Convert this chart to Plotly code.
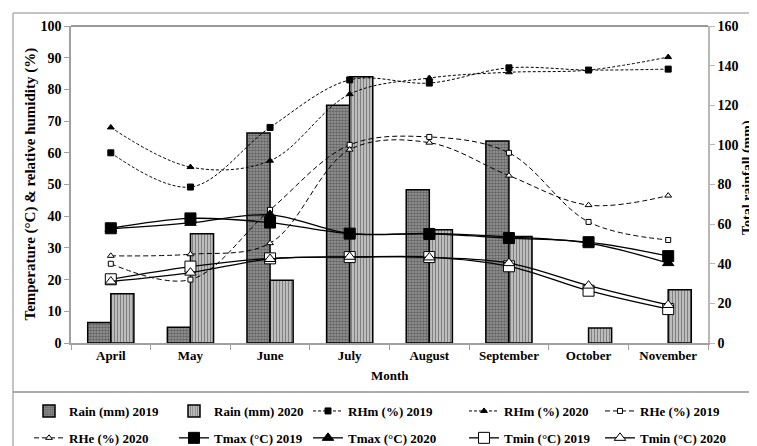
import plotly.graph_objects as go

months = ["April", "May", "June", "July", "August", "September", "October", "November"]

rain_2019 = [10.4, 8.0, 106.0, 120.0, 77.3, 102.0, None, None]
rain_2020 = [24.8, 55.2, 31.7, 134.4, 57.1, 53.8, 7.6, 26.9]

rhm_2019 = [60.0, 49.2, 68.0, 83.0, 82.0, 86.8, 86.1, 86.4]
rhm_2020 = [68.0, 55.5, 57.5, 78.5, 83.6, 85.4, 86.1, 90.2]
rhe_2019 = [25.0, 20.0, 42.0, 62.5, 65.0, 60.0, 38.2, 32.5]
rhe_2020 = [27.5, 28.0, 31.5, 61.0, 63.2, 52.8, 43.5, 46.5]
tmax_2019 = [36.2, 39.3, 38.0, 34.5, 34.4, 33.1, 31.8, 27.4]
tmax_2020 = [36.0, 37.9, 40.4, 34.5, 34.6, 33.5, 31.5, 25.2]
tmin_2019 = [20.1, 24.1, 26.7, 27.1, 27.1, 24.2, 16.5, 10.7]
tmin_2020 = [19.4, 22.2, 26.5, 27.2, 27.0, 25.2, 18.1, 12.0]

FONT = "Liberation Serif"
OFF = 8                      # default page (body) margin
W, H = 757 - OFF, 446 - OFF
L, R, T, B = 71 - OFF, (757 - OFF) - (708 - OFF), 26 - OFF, (446 - OFF) - (343 - OFF)
PW, PH = W - L - R, H - T - B


def px(x):
    """page x (px) -> paper fraction"""
    return (x - OFF - L) / PW


def py(y):
    """page y (px) -> paper fraction"""
    return (H - B - (y - OFF)) / PH


legend_ids = ["legend", "legend2", "legend3", "legend4", "legend5"]
col_x = [29, 174, 308, 464, 600]

fig = go.Figure()
order = 0


def lg():
    global order
    i = order
    order += 1
    return dict(legend=legend_ids[i % 5], legendgroup="g%d" % i, legendrank=i)


fig.add_trace(go.Bar(
    x=months, y=rain_2019, name="Rain (mm) 2019", yaxis="y", **lg(),
    marker=dict(color="#6e6e6e", line=dict(color="black", width=1.5),
                pattern=dict(shape=".", fgcolor="#303030", bgcolor="#9a9a9a", size=3, solidity=0.6)),
))
fig.add_trace(go.Bar(
    x=months, y=rain_2020, name="Rain (mm) 2020", yaxis="y", **lg(),
    marker=dict(color="#b0b0b0", line=dict(color="black", width=1.5),
                pattern=dict(shape="|", fgcolor="#3a3a3a", bgcolor="#c8c8c8", size=3, solidity=0.45)),
))


def line_trace(y, name, dash, symbol, size, fill="black", width=1.0, mlw=1):
    return go.Scatter(
        x=months, y=y, name=name, yaxis="y2", mode="lines+markers", **lg(),
        line=dict(color="black", width=width, dash=dash, shape="spline", smoothing=1.0),
        marker=dict(symbol=symbol, size=size, color=fill, line=dict(color="black", width=mlw)),
    )


fig.add_trace(line_trace(rhm_2019, "RHm (%) 2019", "3px,2px", "square", 6))
fig.add_trace(line_trace(rhm_2020, "RHm (%) 2020", "3px,2px", "triangle-up", 6))
fig.add_trace(line_trace(rhe_2019, "RHe (%) 2019", "5px,3px", "square", 5, fill="white"))
fig.add_trace(line_trace(rhe_2020, "RHe (%) 2020", "5px,3px", "triangle-up", 6, fill="white"))
fig.add_trace(line_trace(tmax_2019, "Tmax (°C) 2019", "solid", "square", 11, width=1.3))
fig.add_trace(line_trace(tmax_2020, "Tmax (°C) 2020", "solid", "triangle-up", 10, width=1.3))
fig.add_trace(line_trace(tmin_2019, "Tmin (°C) 2019", "solid", "square", 11, fill="white", width=1.3))
fig.add_trace(line_trace(tmin_2020, "Tmin (°C) 2020", "solid", "triangle-up", 10, fill="white", width=1.3))

tickfont = dict(family=FONT, size=14, color="black", weight="bold")

legend_common = dict(
    orientation="v", xanchor="left", y=py(396), yanchor="top",
    font=dict(family=FONT, size=13, color="black", weight="bold"),
    tracegroupgap=7, bgcolor="rgba(0,0,0,0)", itemwidth=30,
)
legends = {lid: dict(x=px(cx), **legend_common) for lid, cx in zip(legend_ids, col_x)}

fig.update_layout(
    width=W, height=H,
    margin=dict(l=L, r=R, t=T, b=B, pad=0, autoexpand=False),
    paper_bgcolor="white", plot_bgcolor="white",
    font=dict(family=FONT, color="black"),
    barmode="group", bargap=0.42, bargroupgap=0,
    showlegend=True,
    xaxis=dict(
        type="category", showline=True, linecolor="#a0a0a0", linewidth=1.5,
        ticks="outside", tickson="boundaries", ticklen=5, tickcolor="#a0a0a0",
        tickfont=dict(family=FONT, size=13, color="black", weight="bold"),
        showgrid=False, zeroline=False,
    ),
    yaxis=dict(
        side="right", range=[0, 160], dtick=20, showline=True, linecolor="#b8b8b8", linewidth=1.5,
        ticks="outside", ticklen=5, tickcolor="#b8b8b8", tickfont=tickfont,
        showgrid=False, zeroline=False,
    ),
    yaxis2=dict(
        side="left", overlaying="y", range=[0, 100], dtick=10, showline=True, linecolor="#a0a0a0",
        linewidth=1.5, ticks="outside", ticklen=5, tickcolor="#a0a0a0", tickfont=tickfont,
        showgrid=False, zeroline=False,
    ),
    annotations=[
        dict(text="Temperature (°C) & relative humidity (%)", x=px(30), y=0.5, xref="paper", yref="paper",
             textangle=-90, showarrow=False, xanchor="center", yanchor="middle",
             font=dict(family=FONT, size=15, color="black", weight="bold")),
        dict(text="Total rainfall (mm)", x=px(748), y=py(178), xref="paper", yref="paper",
             textangle=-90, showarrow=False, xanchor="center", yanchor="middle",
             font=dict(family=FONT, size=14, color="black", weight="bold")),
        dict(text="Month", x=0.5, y=py(375), xref="paper", yref="paper", showarrow=False,
             xanchor="center", yanchor="middle",
             font=dict(family=FONT, size=13, color="black", weight="bold")),
    ],
    shapes=[
        dict(type="line", xref="paper", yref="paper", x0=0, x1=1, y0=1, y1=1,
             line=dict(color="#333333", width=1.2)),
        dict(type="line", xref="paper", yref="paper", x0=px(13), x1=px(757), y0=py(13), y1=py(13),
             line=dict(color="#b0b0b0", width=1.5)),
        dict(type="line", xref="paper", yref="paper", x0=px(13), x1=px(13), y0=py(13), y1=py(446),
             line=dict(color="#b0b0b0", width=1.5)),
        dict(type="line", xref="paper", yref="paper", x0=px(13), x1=px(757), y0=py(392), y1=py(392),
             line=dict(color="#909090", width=1.5)),
    ],
    **legends,
)

fig.write_html("out.html")
